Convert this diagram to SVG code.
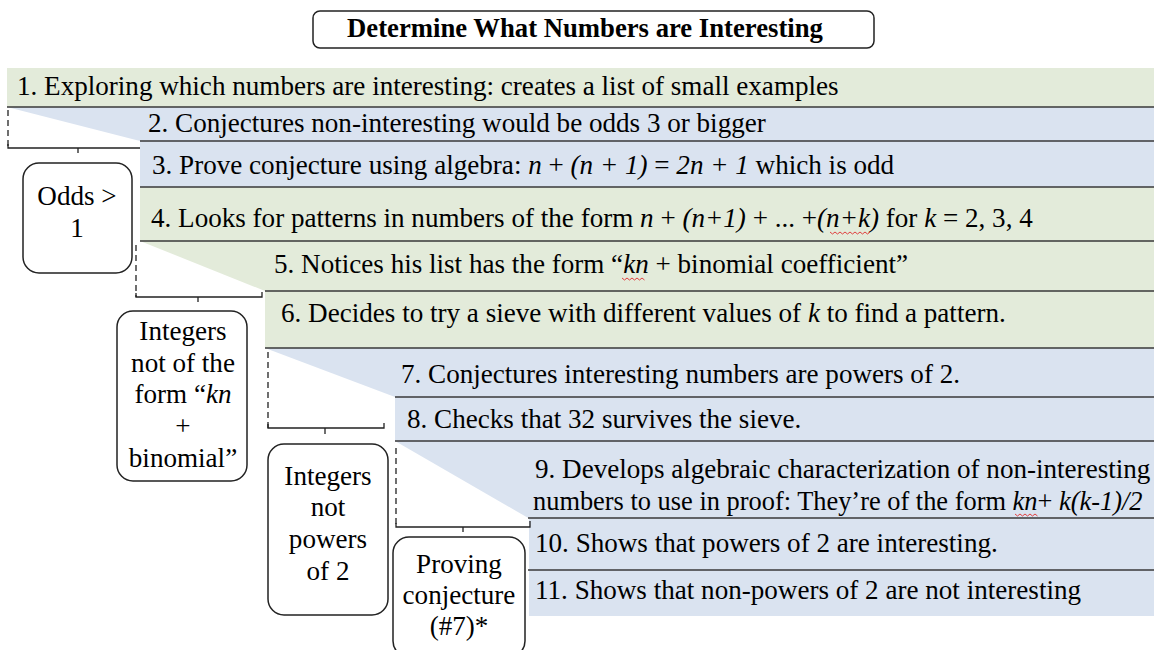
<svg xmlns="http://www.w3.org/2000/svg" width="1154" height="650" viewBox="0 0 1154 650">
<style>
text{font-family:"Liberation Serif","Times New Roman",serif;fill:#000}
.t{font-size:27.1px}
.b{font-size:26.7px;font-weight:bold}
.i{font-style:italic}
.g{fill:#E3EBDA}
.u{fill:#DAE3F0}
.ln{stroke:#3a3a3a;stroke-width:1.5;fill:none}
.dash{stroke:#222;stroke-width:1.3;stroke-dasharray:6 4;fill:none}
.br{stroke:#222;stroke-width:1.3;fill:none}
.box{fill:#fff;stroke:#222;stroke-width:1.5}
.sq{stroke:#e04040;stroke-width:1;fill:none}
.c{text-anchor:middle}
</style>
<g id="title">
<rect x="313" y="11" width="561" height="37" rx="7" class="box"/>
<text x="585" y="37" class="b c">Determine What Numbers are Interesting</text>
</g>
<g id="bands">
<rect x="7" y="68" width="1147" height="39" class="g"/>
<polygon points="7,107 140,107 140,141" class="u"/>
<rect x="140" y="107" width="1014" height="80" class="u"/>
<rect x="140" y="187" width="1014" height="54" class="g"/>
<polygon points="140,241 265,241 265,291" class="g"/>
<rect x="265" y="241" width="889" height="107" class="g"/>
<polygon points="265,348 395,348 395,397" class="u"/>
<rect x="395" y="348" width="759" height="93" class="u"/>
<polygon points="395,441 530,441 530,519" class="u"/>
<rect x="529" y="441" width="625" height="175" class="u"/>
</g>
<g id="rules">
<path class="ln" d="M7 107H1154M140 141H1154M140 187H1154M140 241H1154M265 291H1154M265 348H1154M395 397H1154M395 441H1154M528 518H1154M528 570H1154"/>
</g>
<g id="steps">
<text id="s1" x="17" y="95" class="t">1. Exploring which numbers are interesting: creates a list of small examples</text>
<text id="s2" x="148" y="132" class="t">2. Conjectures non-interesting would be odds 3 or bigger</text>
<text id="s3" x="152" y="174" class="t">3. Prove conjecture using algebra: <tspan class="i">n</tspan> + <tspan class="i">(n + 1)</tspan> = <tspan class="i">2n + 1</tspan> which is odd</text>
<text id="s4" x="151" y="227" class="t">4. Looks for patterns in numbers of the form <tspan class="i">n</tspan> + <tspan class="i">(n+1)</tspan> + ... +<tspan class="i">(n+k)</tspan> for <tspan class="i">k</tspan> = 2, 3, 4</text>
<text id="s5" x="274" y="273" class="t">5. Notices his list has the form “<tspan class="i">kn</tspan> + binomial coefficient”</text>
<text id="s6" x="281" y="322" class="t">6. Decides to try a sieve with different values of <tspan class="i">k</tspan> to find a pattern.</text>
<text id="s7" x="401" y="383" class="t">7. Conjectures interesting numbers are powers of 2.</text>
<text id="s8" x="407" y="428" class="t">8. Checks that 32 survives the sieve.</text>
<text id="s9" x="535" y="478" class="t">9. Develops algebraic characterization of non-interesting</text>
<text x="533" y="510" class="t" style="font-size:26.4px">numbers to use in proof: They’re of the form <tspan class="i">kn</tspan>+ <tspan class="i">k(k-1)/2</tspan></text>
<text id="s10" x="535" y="552" class="t">10. Shows that powers of 2 are interesting.</text>
<text id="s11" x="535" y="599" class="t">11. Shows that non-powers of 2 are not interesting</text>
</g>
<g id="squiggles">
<path class="sq" d="M830 232l2.5 2l2.5 -2l2.5 2l2.5 -2l2.5 2l2.5 -2l2.5 2l2.5 -2l2.5 2l2.5 -2l2.5 2l2.5 -2l2.5 2l2.5 -2l2.5 2l2.5 -2"/>
<path class="sq" d="M622 278l2.5 2l2.5 -2l2.5 2l2.5 -2l2.5 2l2.5 -2l2.5 2l2.5 -2l2.5 2"/>
<path class="sq" d="M206 408l2.5 2l2.5 -2l2.5 2l2.5 -2l2.5 2l2.5 -2l2.5 2l2.5 -2l2.5 2l2.5 -2l2.5 2"/>
<path class="sq" d="M1015 514l2.5 2l2.5 -2l2.5 2l2.5 -2l2.5 2l2.5 -2l2.5 2l2.5 -2l2.5 2"/>
</g>
<g id="connectors">
<path class="dash" d="M8 110V148"/>
<path class="br" d="M8 144V148H140M78 148V153"/>
<path class="dash" d="M136 245V297"/>
<path class="br" d="M136 293V297H262V292M198 297V302"/>
<path class="dash" d="M268 352V428"/>
<path class="br" d="M268 424V428H384V423M325 428V434"/>
<path class="dash" d="M396 448V527"/>
<path class="br" d="M396 523V527H530V521M463 527V532"/>
</g>
<g id="odds">
<rect x="23" y="163" width="109" height="110" rx="16" class="box"/>
<text x="77" y="205" class="t c">Odds &gt;</text>
<text x="77" y="237" class="t c">1</text>
</g>
<g id="not-binomial">
<rect x="117" y="311" width="130" height="170" rx="16" class="box"/>
<text x="183" y="340" class="t c">Integers</text>
<text x="183" y="372" class="t c">not of the</text>
<text x="183" y="403" class="t c">form “<tspan class="i">kn</tspan></text>
<text x="183" y="435" class="t c">+</text>
<text x="183" y="467" class="t c">binomial”</text>
</g>
<g id="not-powers">
<rect x="268" y="444" width="120" height="171" rx="16" class="box"/>
<text x="328" y="485" class="t c">Integers</text>
<text x="328" y="516" class="t c">not</text>
<text x="328" y="548" class="t c">powers</text>
<text x="328" y="580" class="t c">of 2</text>
</g>
<g id="proving">
<rect x="393" y="537" width="132" height="120" rx="16" class="box"/>
<text x="459" y="573" class="t c">Proving</text>
<text x="459" y="604" class="t c">conjecture</text>
<text x="459" y="635" class="t c">(#7)*</text>
</g>
</svg>
